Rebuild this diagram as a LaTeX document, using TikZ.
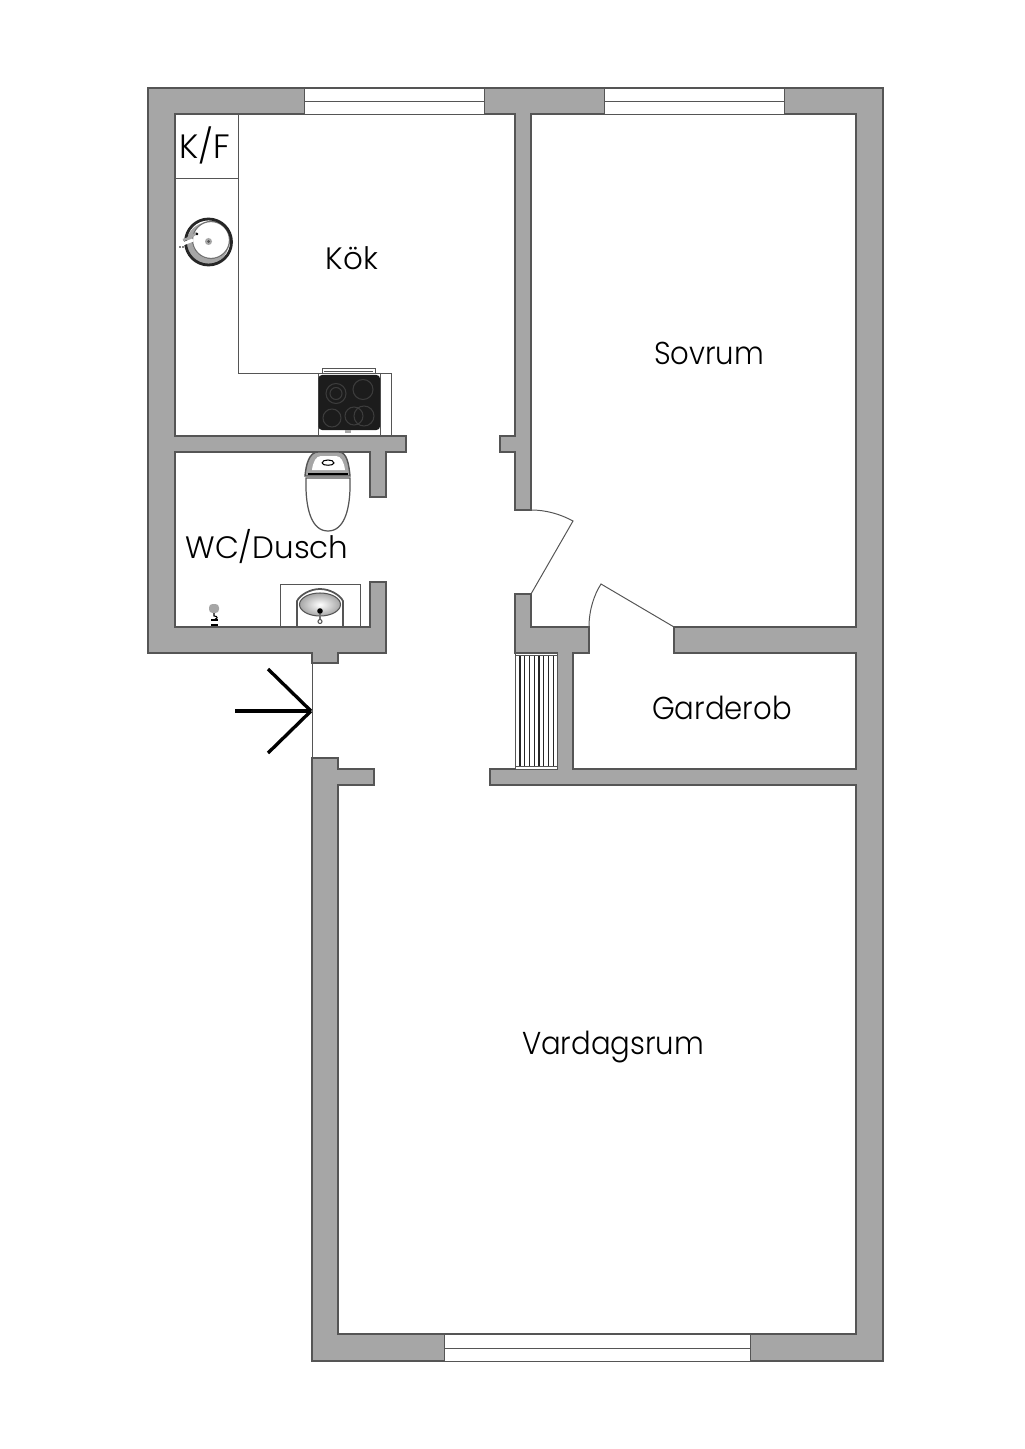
\documentclass[tikz,border=0pt]{standalone}
\usepackage{fontspec}
\setmainfont{Poppins}[UprightFont=* Light]
\newfontfamily\narrowfont{Poppins}[UprightFont=* Light,FakeStretch=0.92]
\definecolor{wallgray}{HTML}{A6A6A6}
\definecolor{edgegray}{HTML}{555555}
\definecolor{stovedark}{HTML}{1C1C1C}
\definecolor{ringgray}{HTML}{3C3C3C}
\begin{document}
\begin{tikzpicture}[x=0.01cm,y=-0.01cm]
    \tikzstyle{wall} = [draw=edgegray, fill=wallgray, line width=0.3pt, line join=miter];
    \tikzstyle{fine} = [draw=edgegray, line width=0.28pt];
    \tikzstyle{pane} = [draw=edgegray, fill=white, line width=0.28pt];
    \tikzstyle{room} = [text=black, anchor=base, inner sep=0pt,
    font=\narrowfont\fontsize{9pt}{11pt}\selectfont];
    \tikzstyle{roomwide} = [text=black, anchor=base, inner sep=0pt,
    font=\fontsize{8.8pt}{11pt}\selectfont];
    \tikzstyle{burner} = [draw=ringgray, line width=0.3pt];

    \useasboundingbox (0,0) rectangle (1024,1449);

    % walls
    \draw[wall] (148,88) -- (883,88) -- (883,1361) -- (312,1361) -- (312,758)
        -- (338,758) -- (338,769) -- (374,769) -- (374,785) -- (338,785)
        -- (338,1334) -- (856,1334) -- (856,785) -- (490,785) -- (490,769)
        -- (515,769) -- (557,769) -- (557,653) -- (515,653) -- (515,594)
        -- (531,594) -- (531,627) -- (589,627) -- (589,653) -- (573,653)
        -- (573,769) -- (856,769) -- (856,653) -- (674,653) -- (674,627)
        -- (856,627) -- (856,114) -- (531,114) -- (531,510) -- (515,510)
        -- (515,452) -- (500,452) -- (500,436) -- (515,436) -- (515,114)
        -- (175,114) -- (175,436) -- (406,436) -- (406,452) -- (386,452)
        -- (386,497) -- (370,497) -- (370,452) -- (175,452) -- (175,627)
        -- (370,627) -- (370,582) -- (386,582) -- (386,653) -- (338,653)
        -- (338,663) -- (312,663) -- (312,653) -- (148,653) -- cycle;

    % windows
    \draw[pane] (304,88) rectangle (484,114);
    \draw[pane] (604,88) rectangle (784,114);
    \draw[pane] (444,1334) rectangle (750,1361);
    \coordinate (w1a) at (304,101);
    \coordinate (w1b) at (484,101);
    \coordinate (w2a) at (604,101);
    \coordinate (w2b) at (784,101);
    \coordinate (w3a) at (444,1348);
    \coordinate (w3b) at (750,1348);
    \path[fine] (w1a) edge (w1b)
                (w2a) edge (w2b)
                (w3a) edge (w3b);

    % entrance
    \coordinate (e1) at (312,663);
    \coordinate (e2) at (312,758);
    \draw[fine] (e1) -- (e2);
    \coordinate (tip) at (311,711);
    \coordinate (tail) at (235,711);
    \coordinate (arm1) at (268,669);
    \coordinate (arm2) at (268,753);
    \path[black, line width=0.95pt] (tail) edge (tip)
                                    (arm1) edge (tip)
                                    (arm2) edge (tip);

    % doors
    \coordinate (d1a) at (531,594);
    \coordinate (d1b) at (573,521);
    \coordinate (d1c) at (531,510);
    \coordinate (d2a) at (674,627);
    \coordinate (d2b) at (601,584);
    \coordinate (d2c) at (589,627);
    \draw[fine] (d1a) -- (d1b) .. controls (560,514) and (546,510) .. (d1c);
    \draw[fine] (d2a) -- (d2b) .. controls (594,595) and (589,610) .. (d2c);

    % radiator
    \draw[pane] (515,653) rectangle (557,769);
    \foreach \i in {0,...,7} {
        \draw[black!85, line width=0.38pt] (520+4.75*\i,655) -- (520+4.75*\i,767);
    }
    \coordinate (r1) at (515,655.5);
    \coordinate (r2) at (557,655.5);
    \coordinate (r3) at (515,766.5);
    \coordinate (r4) at (557,766.5);
    \path[fine] (r1) edge (r2)
                (r3) edge (r4);

    % kitchen counter
    \coordinate (c1) at (238,114);
    \coordinate (c2) at (238,373);
    \coordinate (c3) at (391,373);
    \coordinate (c4) at (391,436);
    \coordinate (c5) at (175,178);
    \coordinate (c6) at (238,178);
    \draw[fine] (c1) -- (c2) -- (c3) -- (c4);
    \draw[fine] (c5) -- (c6);

    % stove
    \draw[fine] (322,373) -- (322,368.5) -- (375,368.5) -- (375,373);
    \draw[fine] (324,371) -- (373,371);
    \draw[fine] (318,373) -- (318,436);
    \draw[fine] (380,373) -- (380,436);
    \fill[stovedark, rounded corners=1pt] (318.5,375) rectangle (380,430);
    \draw[burner] (336,393.5) circle (10);
    \draw[burner] (336,393.5) circle (6);
    \draw[burner] (363,389.5) circle (10);
    \draw[burner] (332,418) circle (9);
    \draw[burner] (354,416) circle (9);
    \draw[burner] (364,416) circle (10);
    \fill[wallgray] (345,430) rectangle (351,433);

    % kitchen sink
    \fill[wallgray] (207.5,243.5) circle (21);
    \fill[white] (211,240) circle (19);
    \draw[draw=wallgray!70!black, line width=0.35pt] (211,240) circle (18.5);
    \draw[draw=black!85, line width=0.8pt] (208.5,242) circle (23);
    \fill[wallgray] (208.5,241.5) circle (3.5);
    \fill[edgegray] (208.5,241.5) circle (1.5);
    \draw[white, line width=0.9pt] (180,245) -- (193,240);
    \draw[wallgray, line width=0.7pt] (183,240) .. controls (192,238) and (194,234) .. (197,233);
    \fill[black] (197,234) circle (1.3);
    \fill[black] (180,247) circle (0.9) (183,247) circle (0.9);

    % toilet
    \draw[draw=edgegray, fill=wallgray, line width=0.4pt] (305,476) .. controls (306,465) and (309,452) .. (318,452)
        -- (339,452) .. controls (347,452) and (349,465) .. (350,476) -- cycle;
    \fill[white] (312,470) .. controls (313,462) and (316,456) .. (321,456) -- (336,456)
        .. controls (341,456) and (344,462) .. (345,470) -- cycle;
    \draw[draw=black, line width=0.3pt] (322,463) .. controls (322,459) and (334,459) .. (334,463)
        .. controls (334,466) and (322,466) .. (322,463);
    \draw[black, line width=0.6pt] (308,474) -- (348,474);
    \draw[pane, line width=0.35pt] (306,478) .. controls (305,510) and (312,531) .. (328,531)
        .. controls (344,531) and (351,510) .. (350,478) -- cycle;

    % basin
    \draw[fine] (280,627) -- (280,584) -- (360,584) -- (360,627);
    \draw[fine, line width=0.5pt] (297,627) -- (297,601) .. controls (300,595) and (310,589) .. (320,589)
        .. controls (330,589) and (340,595) .. (343,601) -- (343,627);
    \shade[inner color=white, outer color=wallgray, draw=edgegray, line width=0.3pt] (320,604.5) ellipse (20.5 and 11.5);
    \fill[black] (320,611) circle (2.8);
    \draw[wallgray!70!black, line width=0.5pt] (320,614) -- (320,619);
    \draw[edgegray, line width=0.3pt] (320,621.5) circle (2);

    % shower tap
    \fill[wallgray, rounded corners=1pt] (209,604) rectangle (219,613);
    \draw[black, line width=0.3pt] (214,613) -- (214,616) .. controls (218,616) and (218,619) .. (215,619);
    \draw[black, line width=0.6pt] (211,620) -- (218,620);
    \draw[black, line width=0.6pt] (211,625) -- (218,625);

    % room labels
    \node[roomwide, font=\fontsize{9.6pt}{11pt}\selectfont] (kf) at (205,158.5) {K/F};
    \node[roomwide] (kok) at (352,270) {Kök};
    \node[room] (sovrum) at (709,364) {Sovrum};
    \node[roomwide] (wc) at (267,558) {WC/Dusch};
    \node[room] (garderob) at (722,719) {Garderob};
    \node[room] (vardagsrum) at (613,1054) {Vardagsrum};
\end{tikzpicture}
\end{document}
